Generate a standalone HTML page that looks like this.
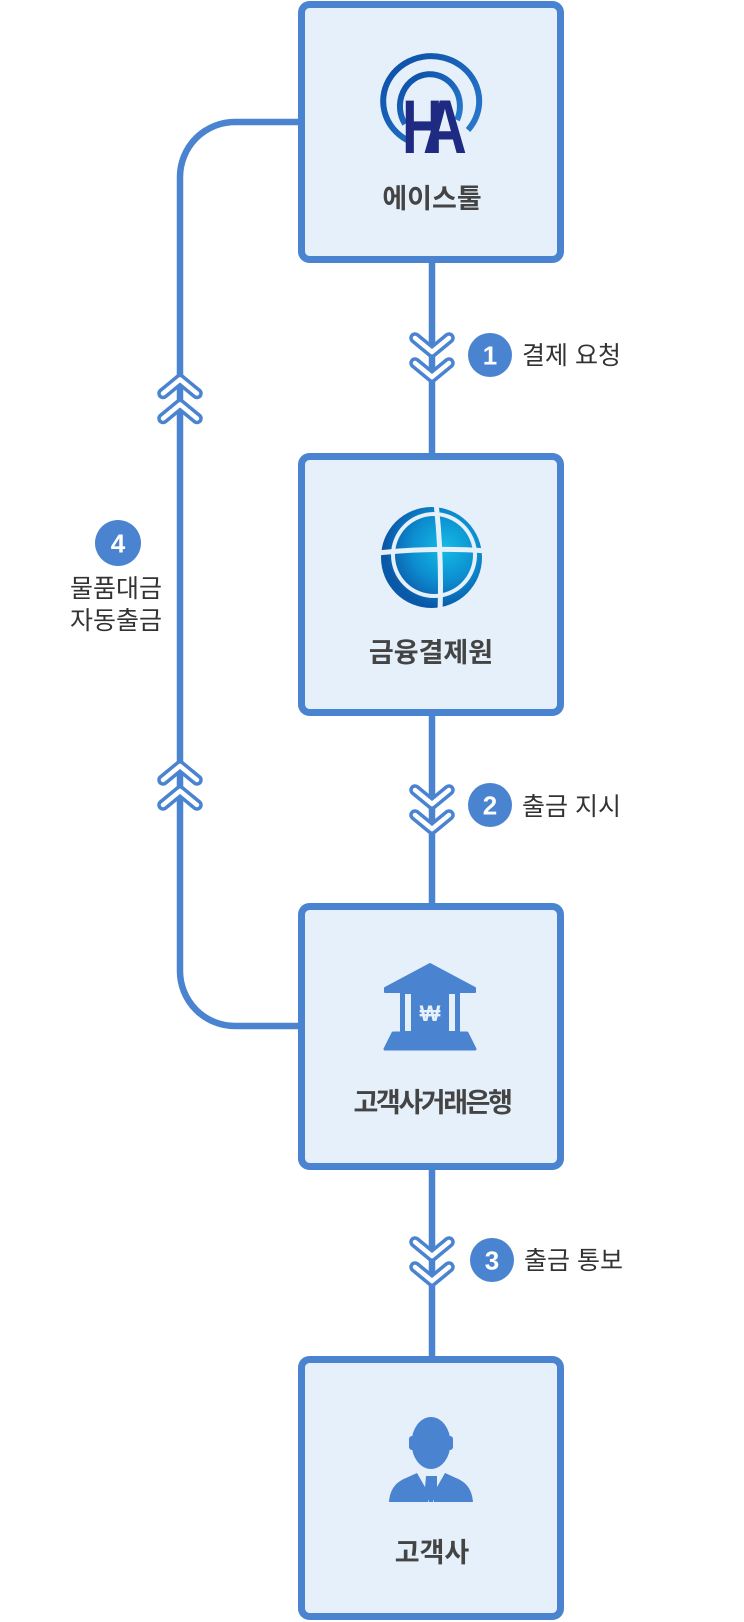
<!DOCTYPE html>
<html>
<head>
<meta charset="utf-8">
<style>
  html,body{margin:0;padding:0;background:#fff;}
  body{width:744px;height:1622px;overflow:hidden;}
  svg{display:block;}
  .t{font-family:"Liberation Sans","Noto Sans CJK KR",sans-serif;font-weight:bold;font-size:27px;fill:#444;}
  .l{font-family:"Liberation Sans","Noto Sans CJK KR",sans-serif;font-size:25px;fill:#333;}
  .n{font-family:"Liberation Sans",sans-serif;font-weight:bold;font-size:26px;fill:#fff;}
</style>
</head>
<body>
<svg width="744" height="1622" viewBox="0 0 744 1622" xmlns="http://www.w3.org/2000/svg">
  <defs>
    <radialGradient id="gl" cx="445" cy="548" r="60" gradientUnits="userSpaceOnUse">
      <stop offset="0" stop-color="#14bbe6"/>
      <stop offset="0.55" stop-color="#0d8ed0"/>
      <stop offset="1" stop-color="#0a58a8"/>
    </radialGradient>
    <linearGradient id="rg" x1="0" y1="0" x2="1" y2="1">
      <stop offset="0" stop-color="#0b4da6"/>
      <stop offset="1" stop-color="#2a7ccf"/>
    </linearGradient>
  </defs>

  <!-- left loop -->
  <path d="M298,122 H235 A55,55 0 0 0 180,177 V971 A55,55 0 0 0 235,1026 H298" fill="none" stroke="#4a84d0" stroke-width="6.5"/>

  <!-- vertical connectors -->
  <line x1="432" y1="262" x2="432" y2="454" stroke="#4a84d0" stroke-width="6.5"/>
  <line x1="432" y1="715" x2="432" y2="905" stroke="#4a84d0" stroke-width="6.5"/>
  <line x1="432" y1="1168" x2="432" y2="1357" stroke="#4a84d0" stroke-width="6.5"/>

  <!-- boxes -->
  <rect x="301.5" y="4.5" width="259" height="255" rx="8" fill="#e5f0fa" stroke="#4a84d0" stroke-width="7"/>
  <rect x="301.5" y="456.5" width="259" height="256" rx="8" fill="#e5f0fa" stroke="#4a84d0" stroke-width="7"/>
  <rect x="301.5" y="906.5" width="259" height="260" rx="8" fill="#e5f0fa" stroke="#4a84d0" stroke-width="7"/>
  <rect x="301.5" y="1359.5" width="259" height="257" rx="8" fill="#e5f0fa" stroke="#4a84d0" stroke-width="7"/>

  <!-- chevrons (blue outlines) -->
  <g fill="none" stroke="#4a84d0" stroke-width="11.5" stroke-linecap="round" stroke-linejoin="round">
    <path d="M415,338 L432,352 L449,338"/>
    <path d="M415,363 L432,377 L449,363"/>
    <path d="M415,790 L432,804 L449,790"/>
    <path d="M415,815 L432,829 L449,815"/>
    <path d="M415,1242 L432,1256 L449,1242"/>
    <path d="M415,1267 L432,1281 L449,1267"/>
    <path d="M163,393.5 L180,379.5 L197,393.5"/>
    <path d="M163,418.5 L180,404.5 L197,418.5"/>
    <path d="M163,780 L180,766 L197,780"/>
    <path d="M163,805 L180,791 L197,805"/>
  </g>
  <g fill="none" stroke="#ffffff" stroke-width="4.5" stroke-linecap="round" stroke-linejoin="round">
    <path d="M415,338 L432,352 L449,338"/>
    <path d="M415,363 L432,377 L449,363"/>
    <path d="M415,790 L432,804 L449,790"/>
    <path d="M415,815 L432,829 L449,815"/>
    <path d="M415,1242 L432,1256 L449,1242"/>
    <path d="M415,1267 L432,1281 L449,1267"/>
    <path d="M163,393.5 L180,379.5 L197,393.5"/>
    <path d="M163,418.5 L180,404.5 L197,418.5"/>
    <path d="M163,780 L180,766 L197,780"/>
    <path d="M163,805 L180,791 L197,805"/>
  </g>

  <!-- badges -->
  <circle cx="490" cy="355" r="22" fill="#4a84d0"/>
  <text class="n" x="490" y="364.5" text-anchor="middle">1</text>
  <circle cx="490" cy="805" r="22" fill="#4a84d0"/>
  <text class="n" x="490" y="814.5" text-anchor="middle">2</text>
  <circle cx="492" cy="1260" r="22" fill="#4a84d0"/>
  <text class="n" x="492" y="1269.5" text-anchor="middle">3</text>
  <circle cx="118" cy="543" r="23" fill="#4a84d0"/>
  <text class="n" x="118" y="552.5" text-anchor="middle">4</text>

  <!-- labels -->
  <text class="l" x="522" y="364">결제 요청</text>
  <text class="l" x="522" y="815">출금 지시</text>
  <text class="l" x="524" y="1269">출금 통보</text>
  <text class="l" x="116" y="597" text-anchor="middle">물품대금</text>
  <text class="l" x="116" y="629" text-anchor="middle">자동출금</text>

  <!-- box titles -->
  <text class="t" x="432" y="208" text-anchor="middle">에이스툴</text>
  <text class="t" x="431" y="662" text-anchor="middle">금융결제원</text>
  <text class="t" x="432" y="1112" text-anchor="middle" letter-spacing="-2.4">고객사거래은행</text>
  <text class="t" x="432" y="1562" text-anchor="middle">고객사</text>

  <!-- HA logo -->
  <path d="M407,140 A48,45 0 1,1 468,130" fill="none" stroke="url(#rg)" stroke-width="6"/>
  <path d="M405,124 A30,32 0 1,1 457,120" fill="none" stroke="url(#rg)" stroke-width="6"/>
  <text x="0" y="0" transform="translate(402,153) scale(0.74,1)" font-family="Liberation Sans, sans-serif" font-weight="bold" font-size="76" fill="#1f2a82">H</text>
  <text x="0" y="0" transform="translate(423,153) scale(0.8,1)" font-family="Liberation Sans, sans-serif" font-weight="bold" font-size="76" fill="#1f2a82">A</text>

  <!-- globe -->
  <circle cx="431.5" cy="557.5" r="50.5" fill="url(#gl)"/>
  <ellipse cx="434" cy="555" rx="41" ry="41" fill="none" stroke="#e5f0fa" stroke-width="4"/>
  <path d="M436,503 Q442,555 440,612" fill="none" stroke="#e5f0fa" stroke-width="5"/>
  <path d="M377,553 Q435,547 487,551" fill="none" stroke="#e5f0fa" stroke-width="5"/>

  <!-- bank icon -->
  <path d="M430,964 L475,988 L475,992 L385,992 L385,988 Z" fill="#4a84d0" stroke="#4a84d0" stroke-width="2" stroke-linejoin="round"/>
  <rect x="400" y="992" width="60" height="41" fill="#4a84d0"/>
  <rect x="405" y="994" width="6" height="37" fill="#e5f0fa"/>
  <rect x="449" y="994" width="6" height="37" fill="#e5f0fa"/>
  <path d="M393,1033 L467,1033 L475,1049 L385,1049 Z" fill="#4a84d0" stroke="#4a84d0" stroke-width="3" stroke-linejoin="round"/>
  <text x="430" y="1021" text-anchor="middle" font-family="Liberation Sans, 'Noto Sans CJK KR', sans-serif" font-weight="bold" font-size="22" fill="#e5f0fa">₩</text>

  <!-- person icon -->
  <ellipse cx="431" cy="1443" rx="19.5" ry="26" fill="#4a84d0"/>
  <rect x="409" y="1436" width="6" height="14" rx="3" fill="#4a84d0"/>
  <rect x="447" y="1436" width="6" height="14" rx="3" fill="#4a84d0"/>
  <path d="M389,1502 C390,1489 396,1482 406,1478 L417,1473 L429,1494 L428,1502 Z" fill="#4a84d0"/>
  <path d="M473,1502 C472,1489 466,1482 456,1478 L445,1473 L433,1494 L434,1502 Z" fill="#4a84d0"/>
  <path d="M426,1476 L437,1476 L437,1488 L433,1502 L429,1502 L425,1488 Z" fill="#4a84d0"/>
</svg>
</body>
</html>
